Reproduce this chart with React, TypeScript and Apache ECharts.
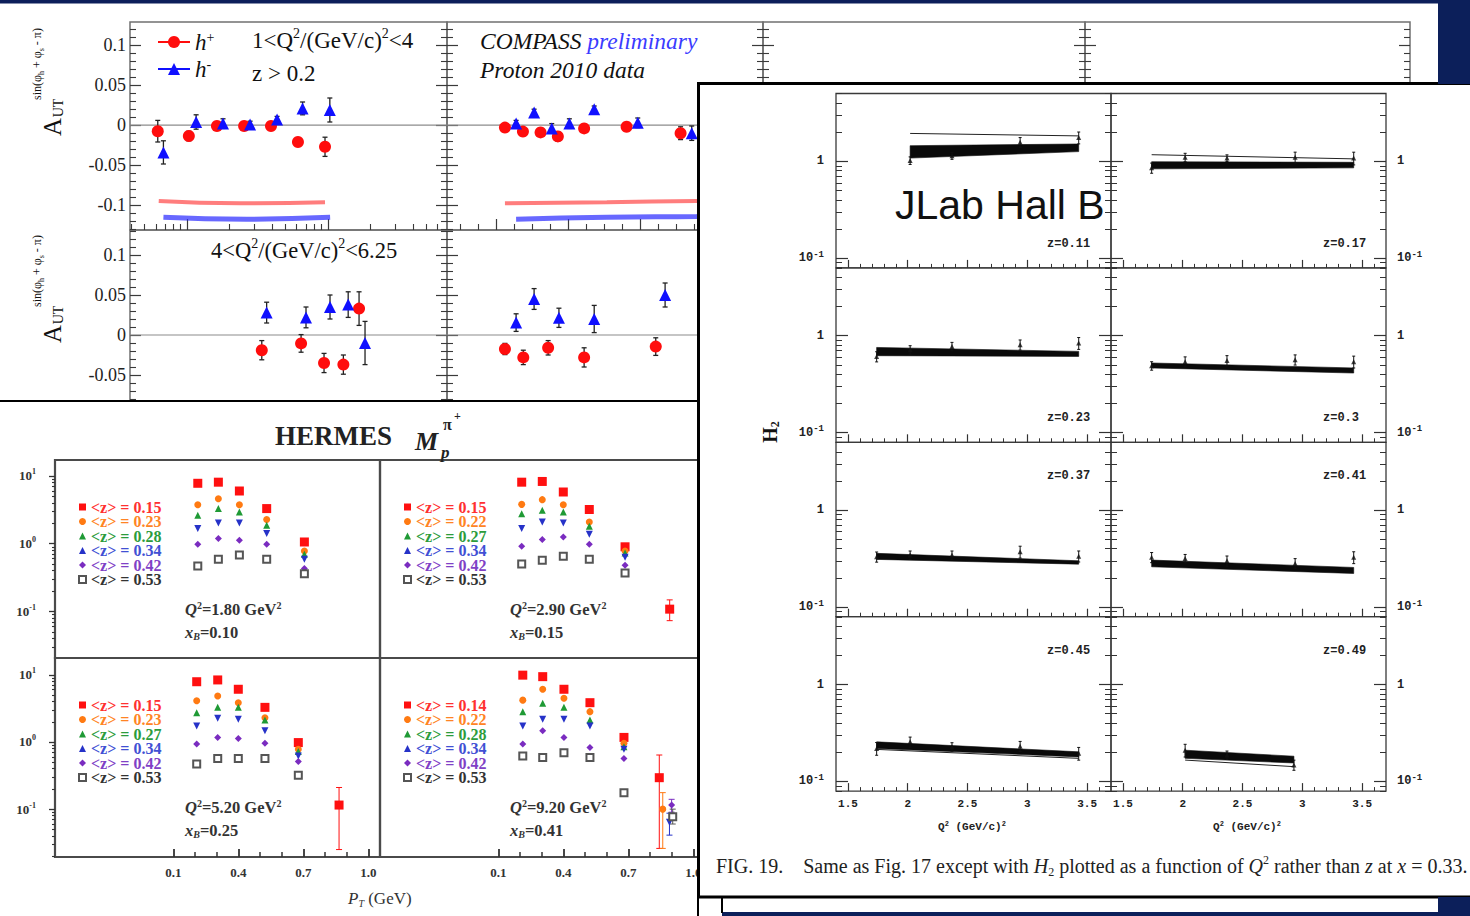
import React, { useEffect, useRef } from 'react';
import * as echarts from 'echarts';

const SERIF = '"Liberation Serif", "Times New Roman", serif';
const MONO = '"Liberation Mono", "DejaVu Sans Mono", monospace';
const SANS = '"Liberation Sans", Arial, sans-serif';
const NAVY = '#0c1f5a';

// ================= COMPASS  A_UT^{sin(phi_h+phi_s-pi)}  (proton 2010) =================
// top row 1<Q2<4, bottom row 4<Q2<6.25 ; column 1 vs x (log), column 2 vs z
const cmpYTicks = [-0.1, -0.05, 0, 0.05, 0.1];
const cmpTopX_hp = [0.0062, 0.0103, 0.0163, 0.0254, 0.0394, 0.0612, 0.0952];
const cmpTopX_hpA = [-0.0075, -0.0135, -0.001, -0.001, -0.001, -0.021, -0.027];
const cmpTopX_hpE = [0.0135, 0.006, 0.004, 0.004, 0.004, 0.005, 0.012];
const cmpTopX_hm = [0.0068, 0.0116, 0.018, 0.028, 0.0435, 0.066, 0.103];
const cmpTopX_hmA = [-0.034, 0.004, 0.002, 0.001, 0.007, 0.021, 0.019];
const cmpTopX_hmE = [0.0145, 0.009, 0.006, 0.004, 0.004, 0.008, 0.015];
const cmpTopZ_hp = [0.223, 0.273, 0.322, 0.37, 0.443, 0.561, 0.711];
const cmpTopZ_hpA = [-0.003, -0.008, -0.009, -0.014, -0.004, -0.002, -0.01];
const cmpTopZ_hpE = [0.004, 0.004, 0.004, 0.006, 0.004, 0.005, 0.008];
const cmpTopZ_hm = [0.254, 0.304, 0.353, 0.402, 0.471, 0.592, 0.742];
const cmpTopZ_hmA = [0.002, 0.016, -0.004, 0.002, 0.02, 0.003, -0.01];
const cmpTopZ_hmE = [0.004, 0.004, 0.006, 0.006, 0.004, 0.006, 0.009];
const cmpBotX_hp = [0.0339, 0.0644, 0.0937, 0.1285, 0.166];
const cmpBotX_hpA = [-0.019, -0.0105, -0.035, -0.037, 0.033];
const cmpBotX_hpE = [0.012, 0.011, 0.012, 0.012, 0.021];
const cmpBotX_hm = [0.0367, 0.0698, 0.1033, 0.139, 0.183];
const cmpBotX_hmA = [0.028, 0.022, 0.035, 0.038, -0.01];
const cmpBotX_hmE = [0.013, 0.013, 0.015, 0.016, 0.027];
const cmpBotZ_hp = [0.223, 0.274, 0.343, 0.443, 0.642];
const cmpBotZ_hpA = [-0.0175, -0.028, -0.016, -0.028, -0.0145];
const cmpBotZ_hpE = [0.007, 0.009, 0.009, 0.012, 0.011];
const cmpBotZ_hm = [0.254, 0.304, 0.373, 0.471, 0.668];
const cmpBotZ_hmA = [0.0155, 0.045, 0.0215, 0.02, 0.05];
const cmpBotZ_hmE = [0.011, 0.013, 0.012, 0.017, 0.015];
// model curves
const cmpCurveX_hp = [0.0063, 0.0238, 0.0952];
const cmpCurveX_hpA = [-0.0946, -0.0975, -0.0963];
const cmpCurveX_hm = [0.0068, 0.0265, 0.1035];
const cmpCurveX_hmA = [-0.1151, -0.1175, -0.1151];
const cmpCurveZ_hp = [0.223, 0.506, 0.756, 0.9];
const cmpCurveZ_hpA = [-0.0975, -0.0963, -0.0946, -0.094];
const cmpCurveZ_hm = [0.254, 0.506, 0.756, 0.9];
const cmpCurveZ_hmA = [-0.1175, -0.115, -0.114, -0.113];

// ================= HERMES  M_p^{pi+} vs P_T =================
const hermesColors = ['#ff1010', '#ff7a12', '#1f9a35', '#2632c8', '#7a2cc0', '#555555'];
const hermesTextColors = ['#ff3030', '#ff8424', '#2c9c3c', '#4150d4', '#8040c6', '#333333'];
const hermesSymbols = ['rect', 'circle', 'triangle', 'triangle', 'diamond', 'emptyRect'];
const hermesRotate = [0, 0, 0, 180, 0, 0];
const hermesSizes = [9, 7, 7, 7, 7, 7];
const hermesZ1 = ['0.15', '0.23', '0.28', '0.34', '0.42', '0.53'];
const hermesZ2 = ['0.15', '0.22', '0.27', '0.34', '0.42', '0.53'];
const hermesZ3 = ['0.15', '0.23', '0.27', '0.34', '0.42', '0.53'];
const hermesZ4 = ['0.14', '0.22', '0.28', '0.34', '0.42', '0.53'];
const hermesQ2 = ['1.80', '2.90', '5.20', '9.20'];
const hermesXB = ['0.10', '0.15', '0.25', '0.41'];
const hermesPtTicks = [0.1, 0.4, 0.7, 1.0];
const hermesPt1 = [0.213, 0.308, 0.405, 0.531, 0.705];
const hermesPt2 = [0.208, 0.303, 0.4, 0.52, 0.685];
const hermesPt3 = [0.208, 0.305, 0.4, 0.523, 0.677];
const hermesPt4 = [0.213, 0.305, 0.403, 0.523, 0.68];
// rows: <z> bins in legend order
const hermesM1 = [
  [7.8, 8.1, 6.0, 3.3, 1.06],
  [3.77, 4.6, 3.77, 2.27, 0.78],
  [2.62, 3.3, 2.94, 1.87, 0.7],
  [1.67, 2.02, 2.02, 1.41, 0.59],
  [0.98, 1.19, 1.12, 0.98, 0.43],
  [0.47, 0.59, 0.68, 0.59, 0.36],
];
const hermesM2 = [
  [8.1, 8.3, 5.8, 3.2, 0.9],
  [3.81, 4.47, 3.77, 2.09, 0.78],
  [2.78, 3.11, 2.94, 1.81, 0.73],
  [1.67, 2.09, 2.02, 1.38, 0.63],
  [0.92, 1.15, 1.26, 0.98, 0.48],
  [0.5, 0.57, 0.65, 0.59, 0.37],
];
const hermesM3 = [
  [7.9, 8.4, 6.1, 3.28, 0.98],
  [4.12, 4.84, 3.85, 2.3, 0.78],
  [2.73, 3.28, 3.28, 2.12, 0.72],
  [1.73, 2.25, 2.18, 1.47, 0.62],
  [0.93, 1.17, 1.13, 0.96, 0.51],
  [0.47, 0.57, 0.57, 0.57, 0.32],
];
const hermesM4 = [
  [9.9, 9.4, 6.1, 3.85, 1.17],
  [4.2, 6.1, 4.47, 2.83, 0.96],
  [2.83, 3.77, 3.28, 2.12, 0.85],
  [1.73, 2.18, 2.18, 1.73, 0.78],
  [0.93, 1.47, 1.17, 0.83, 0.57],
  [0.62, 0.59, 0.69, 0.59, 0.176],
];
// extra high-PT points: [bin, PT, M, errLow, errHigh]
const hermesExtra1: number[][] = [];
const hermesExtra2 = [[0, 0.891, 0.108, 0.073, 0.148]];
const hermesExtra3 = [[0, 0.865, 0.115, 0.025, 0.21]];
const hermesExtra4 = [
  [0, 0.843, 0.294, 0.026, 0.64],
  [1, 0.859, 0.1, 0.026, 0.176],
  [4, 0.9, 0.115, 0.09, 0.14],
  [3, 0.89, 0.064, 0.041, 0.087],
  [5, 0.905, 0.077, 0.06, 0.1],
];

// ================= JLab Hall B  H2 vs Q2 at x=0.33 =================
const jlabQTicks = [1.5, 2, 2.5, 3, 3.5];
const jlabZ = ['0.11', '0.17', '0.23', '0.3', '0.37', '0.41', '0.45', '0.49'];
const jlabQ5 = [1.74, 2.02, 2.37, 2.94, 3.43];
const jlabQ011 = [2.02, 2.37, 2.94, 3.43];
const jlabQ049 = [2.02, 2.37, 2.93];
const jlabH011 = [1.02, 1.14, 1.57, 1.76];
const jlabH017 = [0.856, 1.1, 1.08, 1.1, 1.08];
const jlabH023 = [0.61, 0.717, 0.776, 0.807, 0.84];
const jlabH030 = [0.49, 0.54, 0.556, 0.566, 0.54];
const jlabH037 = [0.33, 0.344, 0.344, 0.372, 0.335];
const jlabH041 = [0.326, 0.317, 0.3, 0.282, 0.326];
const jlabH045 = [0.219, 0.256, 0.228, 0.231, 0.195];
const jlabH049 = [0.21, 0.187, 0.148];
// relative errors
const jlabE011 = [0.09, 0.08, 0.12, 0.14];
const jlabE017 = [0.12, 0.1, 0.08, 0.13, 0.15];
const jlabE023 = [0.12, 0.1, 0.1, 0.12, 0.14];
const jlabE030 = [0.1, 0.12, 0.12, 0.12, 0.14];
const jlabE037 = [0.12, 0.1, 0.1, 0.14, 0.13];
const jlabE041 = [0.12, 0.1, 0.12, 0.12, 0.14];
const jlabE045 = [0.15, 0.12, 0.1, 0.12, 0.15];
const jlabE049 = [0.15, 0.1, 0.12];
// model bands (endpoints) and thin curves
const jlabBandQ011 = [2.02, 3.43];
const jlabBandQ5 = [1.74, 3.43];
const jlabBandQ049 = [2.02, 2.93];
const jlabLo011 = [1.08, 1.26];
const jlabHi011 = [1.45, 1.51];
const jlabLo017 = [0.836, 0.856];
const jlabHi017 = [0.99, 0.977];
const jlabLo023 = [0.622, 0.612];
const jlabHi023 = [0.757, 0.689];
const jlabLo030 = [0.465, 0.412];
const jlabHi030 = [0.523, 0.465];
const jlabLo037 = [0.31, 0.277];
const jlabHi037 = [0.358, 0.3];
const jlabLo041 = [0.26, 0.222];
const jlabHi041 = [0.305, 0.256];
const jlabLo045 = [0.219, 0.179];
const jlabHi045 = [0.256, 0.202];
const jlabLo049 = [0.173, 0.155];
const jlabHi049 = [0.21, 0.182];
const jlabLine011 = [1.94, 1.83];
const jlabLine017 = [1.17, 1.06];
const jlabLine045 = [0.214, 0.173];
const jlabLine049 = [0.166, 0.142];

function logMinor(lo: number, hi: number): number[] {
  const out: number[] = [];
  for (let d = Math.floor(lo); d <= Math.ceil(hi); d++) {
    for (let k = 2; k <= 9; k++) {
      const v = d + Math.log10(k);
      if (v > lo && v < hi) out.push(v);
    }
  }
  return out;
}

function buildOption(): any {
  const grid: any[] = [];
  const xAxis: any[] = [];
  const yAxis: any[] = [];
  const series: any[] = [];
  const elements: any[] = [];
  const legend: any[] = [];

  const addGrid = (left: number, top: number, width: number, height: number, borderColor: string, borderWidth: number, z: number) => {
    grid.push({ left, top, width, height, show: true, borderColor, borderWidth, backgroundColor: 'rgba(0,0,0,0)', containLabel: false, z });
    return grid.length - 1;
  };
  const addX = (o: any) => { xAxis.push(o); return xAxis.length - 1; };
  const addY = (o: any) => { yAxis.push(o); return yAxis.length - 1; };
  const dataAxis = (gridIndex: number, type: string, min: number, max: number, z: number) => {
    const o: any = { type, gridIndex, min, max, show: false, z, axisLine: { show: false, onZero: false }, splitLine: { show: false } };
    if (type === 'log') o.logBase = 10;
    return o;
  };
  const deco = (gridIndex: number, position: string, min: number, max: number, ticks: number[], len: number, inside: boolean, color: string, width: number, z: number, label?: any) => ({
    type: 'value', gridIndex, position, min, max, z, silent: true,
    axisLine: { show: false, onZero: false },
    splitLine: { show: false },
    axisTick: { show: true, inside, length: len, customValues: ticks, lineStyle: { color, width } },
    axisLabel: label ? Object.assign({ show: true, customValues: label.values }, label.style) : { show: false },
  });
  const errBars = (xi: number, yi: number, rows: number[][], color: string, cap: number, lw: number, z: number) => ({
    type: 'custom', xAxisIndex: xi, yAxisIndex: yi, z, silent: true,
    data: rows,
    encode: { x: 0, y: [1, 2] },
    renderItem: (params: any, api: any) => {
      const x = api.value(0), lo = api.value(1), hi = api.value(2);
      const a = api.coord([x, lo]);
      const b = api.coord([x, hi]);
      const st = { stroke: color, lineWidth: lw };
      const kids: any[] = [{ type: 'line', shape: { x1: a[0], y1: a[1], x2: b[0], y2: b[1] }, style: st }];
      if (cap > 0) {
        kids.push({ type: 'line', shape: { x1: a[0] - cap, y1: a[1], x2: a[0] + cap, y2: a[1] }, style: st });
        kids.push({ type: 'line', shape: { x1: b[0] - cap, y1: b[1], x2: b[0] + cap, y2: b[1] }, style: st });
      }
      return { type: 'group', children: kids };
    },
  });
  const text = (x: number, y: number, t: string, st: any, z: number, rotation = 0) => {
    const s = Object.assign({ text: t, fill: '#111', align: 'left', textAlign: 'left', verticalAlign: 'middle', textVerticalAlign: 'middle', fontFamily: SERIF, fontSize: 14 }, st);
    if (st.align) s.textAlign = st.align;
    if (st.verticalAlign) s.textVerticalAlign = st.verticalAlign;
    elements.push({ type: 'text', x, y, z, rotation, silent: true, style: s });
  };
  const rect = (x: number, y: number, w: number, h: number, fill: string, stroke: string | null, lw: number, z: number) => {
    elements.push({ type: 'rect', z, silent: true, shape: { x, y, width: w, height: h }, style: { fill, stroke: stroke || 'none', lineWidth: lw } });
  };

  // ---------------------------------------------------------------- COMPASS
  const TK = '#3a3a3a';
  const cmpCols = [[130, 447], [447, 763], [763, 1085], [1085, 1410]];
  const cmpRows = [[22, 230, -0.131, 0.129], [230, 420, -0.10625, 0.13125]];
  const cmpYMinor: number[] = [];
  for (let k = -13; k <= 13; k++) if (k % 5 !== 0) cmpYMinor.push(k / 100);
  const col1X = [0.00394, 0.698];
  const col2X = [0.062, 0.94];
  const col2Minor: number[] = [];
  for (let k = 2; k <= 18; k++) if (k % 4 !== 0) col2Minor.push(k * 0.05);
  const cmpLabel = { values: cmpYTicks, style: { fontFamily: SERIF, fontSize: 18, color: '#222', margin: 4, formatter: (v: number) => String(v) } };
  const P: any = {};
  cmpRows.forEach((row, r) => {
    cmpCols.forEach((col, c) => {
      if (r === 1 && c >= 2) return;
      const g = addGrid(col[0], row[0], col[1] - col[0], row[1] - row[0], '#707070', 1.5, 1);
      const xType = c === 0 ? 'log' : 'value';
      const xr = c === 0 ? col1X : c === 1 ? col2X : [0, 1];
      const xi = addX(dataAxis(g, xType, xr[0], xr[1], 2));
      const yi = addY(dataAxis(g, 'value', row[2], row[3], 2));
      addY(deco(g, 'left', row[2], row[3], cmpYTicks, 11, true, TK, 1.2, 2, c === 0 ? cmpLabel : undefined));
      addY(deco(g, 'left', row[2], row[3], cmpYMinor, 6, true, TK, 1.1, 2));
      addY(deco(g, 'right', row[2], row[3], cmpYTicks, 11, true, TK, 1.2, 2));
      addY(deco(g, 'right', row[2], row[3], cmpYMinor, 6, true, TK, 1.1, 2));
      if (r === 0 && c === 0) {
        const lo = Math.log10(xr[0]), hi = Math.log10(xr[1]);
        addX(deco(g, 'bottom', lo, hi, [-2, -1], 11, true, TK, 1.2, 2));
        addX(deco(g, 'bottom', lo, hi, logMinor(lo, hi), 6, true, TK, 1.1, 2));
      } else if (r === 0 && c === 1) {
        addX(deco(g, 'bottom', xr[0], xr[1], [0.2, 0.4, 0.6, 0.8], 11, true, TK, 1.2, 2));
        addX(deco(g, 'bottom', xr[0], xr[1], col2Minor, 6, true, TK, 1.1, 2));
      }
      P[r + '_' + c] = { xi, yi, xr };
    });
  });
  const zeroLine = (p: any) => series.push({ type: 'line', xAxisIndex: p.xi, yAxisIndex: p.yi, data: [[p.xr[0], 0], [p.xr[1], 0]], symbol: 'none', lineStyle: { color: '#8c8c8c', width: 1.2 }, z: 2, silent: true });
  const curve = (p: any, xs: number[], ys: number[], color: string, width: number) => series.push({ type: 'line', xAxisIndex: p.xi, yAxisIndex: p.yi, data: xs.map((x, i) => [x, ys[i]]), smooth: true, symbol: 'none', lineStyle: { color, width }, z: 3, silent: true });
  const cmpPts = (p: any, name: string, xs: number[], ys: number[], es: number[], color: string, symbol: string, size: number) => {
    series.push(errBars(p.xi, p.yi, xs.map((x, i) => [x, ys[i] - es[i], ys[i] + es[i]]), '#222', 2.5, 1.3, 3));
    series.push({ type: 'line', name, xAxisIndex: p.xi, yAxisIndex: p.yi, data: xs.map((x, i) => [x, ys[i]]), symbol, symbolSize: size, showSymbol: true, itemStyle: { color, opacity: 1 }, lineStyle: { color, width: 0, opacity: 0 }, z: 3, silent: true });
  };
  const RED = '#ff0d0d', BLUE = '#1010ff';
  ['0_0', '0_1', '1_0', '1_1'].forEach((k) => zeroLine(P[k]));
  curve(P['0_0'], cmpCurveX_hp, cmpCurveX_hpA, 'rgba(255,70,70,0.7)', 4);
  curve(P['0_0'], cmpCurveX_hm, cmpCurveX_hmA, 'rgba(40,40,255,0.7)', 5);
  curve(P['0_1'], cmpCurveZ_hp, cmpCurveZ_hpA, 'rgba(255,70,70,0.7)', 4);
  curve(P['0_1'], cmpCurveZ_hm, cmpCurveZ_hmA, 'rgba(40,40,255,0.7)', 5);
  cmpPts(P['0_0'], 'h+', cmpTopX_hp, cmpTopX_hpA, cmpTopX_hpE, RED, 'circle', 12);
  cmpPts(P['0_0'], 'h-', cmpTopX_hm, cmpTopX_hmA, cmpTopX_hmE, BLUE, 'triangle', 12);
  cmpPts(P['0_1'], 'h+', cmpTopZ_hp, cmpTopZ_hpA, cmpTopZ_hpE, RED, 'circle', 12);
  cmpPts(P['0_1'], 'h-', cmpTopZ_hm, cmpTopZ_hmA, cmpTopZ_hmE, BLUE, 'triangle', 12);
  cmpPts(P['1_0'], 'h+', cmpBotX_hp, cmpBotX_hpA, cmpBotX_hpE, RED, 'circle', 12);
  cmpPts(P['1_0'], 'h-', cmpBotX_hm, cmpBotX_hmA, cmpBotX_hmE, BLUE, 'triangle', 12);
  cmpPts(P['1_1'], 'h+', cmpBotZ_hp, cmpBotZ_hpA, cmpBotZ_hpE, RED, 'circle', 12);
  cmpPts(P['1_1'], 'h-', cmpBotZ_hm, cmpBotZ_hmA, cmpBotZ_hmE, BLUE, 'triangle', 12);

  legend.push({
    show: true, selectedMode: false, orient: 'vertical', left: 152, top: 25, itemWidth: 32, itemHeight: 15, itemGap: 3, z: 5,
    data: ['h+', 'h-'],
    formatter: (n: string) => (n === 'h+' ? '{i|h}{s|+}' : '{i|h}{s|-}'),
    textStyle: {
      color: '#111', fontFamily: SERIF, fontSize: 23, lineHeight: 24,
      rich: {
        i: { fontFamily: SERIF, fontSize: 23, fontStyle: 'italic', color: '#111', lineHeight: 24, verticalAlign: 'middle' },
        s: { fontFamily: SERIF, fontSize: 14, color: '#111', lineHeight: 24, verticalAlign: 'top' },
      },
    },
    lineStyle: { width: 2, opacity: 1 },
  });

  const supRich = (fs: number, italic: boolean) => ({
    n: { fontFamily: SERIF, fontSize: fs, fill: '#111', lineHeight: fs + 4, verticalAlign: 'middle', fontStyle: italic ? 'italic' : 'normal' },
    s: { fontFamily: SERIF, fontSize: Math.round(fs * 0.62), fill: '#111', lineHeight: fs + 4, verticalAlign: 'top' },
    b: { fontFamily: SERIF, fontSize: fs, fill: '#3b3bff', lineHeight: fs + 4, verticalAlign: 'middle', fontStyle: 'italic' },
  });
  text(252, 40, '{n|1<Q}{s|2}{n|/(GeV/c)}{s|2}{n|<4}', { rich: supRich(23, false) }, 4);
  text(252, 73, 'z > 0.2', { fontSize: 23 }, 4);
  text(480, 41, '{n|COMPASS }{b|preliminary}', { rich: supRich(23.5, true) }, 4);
  text(480, 70, 'Proton 2010 data', { fontSize: 23.5, fontStyle: 'italic' }, 4);
  text(211, 250, '{n|4<Q}{s|2}{n|/(GeV/c)}{s|2}{n|<6.25}', { rich: supRich(22.5, false) }, 4);
  const yTitle = (cy: number) => {
    text(52, cy + 41, 'A', { fontSize: 25, align: 'center' }, 4, Math.PI / 2);
    text(58, cy + 22, 'UT', { fontSize: 14, align: 'center' }, 4, Math.PI / 2);
    text(37, cy - 22, '{t|sin(φ}{u|h}{t| + φ}{u|s}{t| - π)}', {
      align: 'center',
      rich: {
        t: { fontFamily: SERIF, fontSize: 12, fill: '#111', lineHeight: 16, verticalAlign: 'middle' },
        u: { fontFamily: SERIF, fontSize: 8, fill: '#111', lineHeight: 16, verticalAlign: 'bottom' },
      },
    }, 4, Math.PI / 2);
  };
  yTitle(86);
  yTitle(293);

  // ---------------------------------------------------------------- HERMES
  rect(-10, 401, 708, 530, '#ffffff', '#000000', 2, 10);
  const hCols = [[55, 380], [380, 705]];
  const hRows = [[460, 658, -1.688, 1.236], [658, 857, -1.713, 1.251]];
  const hPt = [hermesPt1, hermesPt2, hermesPt3, hermesPt4];
  const hM = [hermesM1, hermesM2, hermesM3, hermesM4];
  const hZ = [hermesZ1, hermesZ2, hermesZ3, hermesZ4];
  const hEx = [hermesExtra1, hermesExtra2, hermesExtra3, hermesExtra4];
  const hLegendPos = [[78, 499], [403, 499], [78, 697], [403, 697]];
  const hTextPos = [[185, 609, 632], [510, 609, 632], [185, 807, 830], [510, 807, 830]];
  const hYLabel = {
    values: [-1, 0, 1],
    style: {
      fontFamily: SERIF, fontWeight: 'bold', fontSize: 13, color: '#333', margin: 19,
      formatter: (v: number) => '{b|10}{s|' + Math.round(v) + '}',
      rich: {
        b: { fontFamily: SERIF, fontWeight: 'bold', fontSize: 13, color: '#333', lineHeight: 16, verticalAlign: 'middle' },
        s: { fontFamily: SERIF, fontWeight: 'bold', fontSize: 8, color: '#333', lineHeight: 16, verticalAlign: 'top' },
      },
    },
  };
  const hXLabel = { values: hermesPtTicks, style: { fontFamily: SERIF, fontWeight: 'bold', fontSize: 13, color: '#333', margin: 9, formatter: (v: number) => v.toFixed(1) } };
  for (let p = 0; p < 4; p++) {
    const r = Math.floor(p / 2), c = p % 2;
    const row = hRows[r], col = hCols[c];
    const g = addGrid(col[0], row[0], col[1] - col[0], row[1] - row[0], '#4a4a4a', 2.2, 11);
    const xi = addX(dataAxis(g, 'value', -0.446, 1.054, 12));
    const yi = addY(dataAxis(g, 'log', Math.pow(10, row[2]), Math.pow(10, row[3]), 12));
    if (c === 0) {
      addY(deco(g, 'left', row[2], row[3], [-1, 0, 1], 6, false, '#333', 1.3, 12, hYLabel));
      addY(deco(g, 'left', row[2], row[3], logMinor(row[2], row[3]), 3, false, '#333', 1.1, 12));
    }
    if (r === 1) {
      addX(deco(g, 'bottom', -0.446, 1.054, hermesPtTicks, 8, true, '#333', 1.8, 12, hXLabel));
      addX(deco(g, 'bottom', -0.446, 1.054, [0.2, 0.3, 0.5, 0.6, 0.8, 0.9], 5, true, '#333', 1.5, 12));
    }
    const names = hZ[p].map((z) => '<z> = ' + z);
    hEx[p].forEach((e) => series.push(errBars(xi, yi, [[e[1], e[3], e[4]]], hermesColors[e[0]], 3, 1, 13)));
    for (let k = 0; k < 6; k++) {
      const pts: number[][] = hPt[p].map((pt, i) => [pt, hM[p][k][i]]);
      hEx[p].filter((e) => e[0] === k).forEach((e) => pts.push([e[1], e[2]]));
      series.push({
        type: 'scatter', name: names[k], xAxisIndex: xi, yAxisIndex: yi, data: pts,
        symbol: hermesSymbols[k], symbolRotate: hermesRotate[k], symbolSize: hermesSizes[k],
        itemStyle: { color: hermesColors[k], borderColor: hermesColors[k], borderWidth: k === 5 ? 1.2 : 0, opacity: 1 },
        z: 13, silent: true,
      });
    }
    legend.push({
      show: true, selectedMode: false, orient: 'vertical', left: hLegendPos[p][0], top: hLegendPos[p][1],
      itemWidth: 7, itemHeight: 7, itemGap: -1.5, z: 14, padding: 0,
      data: names.map((n, k) => ({ name: n, textStyle: { color: hermesTextColors[k] } })),
      textStyle: { fontFamily: SERIF, fontWeight: 'bold', fontSize: 16 },
    });
    const tp = hTextPos[p];
    const hr = {
      i: { fontFamily: SERIF, fontWeight: 'bold', fontStyle: 'italic', fontSize: 16.5, fill: '#333', lineHeight: 18, verticalAlign: 'middle' },
      b: { fontFamily: SERIF, fontWeight: 'bold', fontSize: 16.5, fill: '#333', lineHeight: 18, verticalAlign: 'middle' },
      s: { fontFamily: SERIF, fontWeight: 'bold', fontSize: 10, fill: '#333', lineHeight: 18, verticalAlign: 'top' },
      u: { fontFamily: SERIF, fontWeight: 'bold', fontStyle: 'italic', fontSize: 10, fill: '#333', lineHeight: 18, verticalAlign: 'bottom' },
    };
    text(tp[0], tp[1], '{i|Q}{s|2}{b|=' + hermesQ2[p] + ' GeV}{s|2}', { rich: hr }, 14);
    text(tp[0], tp[2], '{i|x}{u|B}{b|=' + hermesXB[p] + '}', { rich: hr }, 14);
  }
  text(275, 436, 'HERMES', { fontSize: 27, fontWeight: 'bold', fill: '#222' }, 14);
  text(415, 441, 'M', { fontSize: 26, fontWeight: 'bold', fontStyle: 'italic', fill: '#222' }, 14);
  text(441, 452, 'p', { fontSize: 17, fontWeight: 'bold', fontStyle: 'italic', fill: '#222' }, 14);
  text(443, 424, 'π', { fontSize: 16, fontWeight: 'bold', fill: '#222' }, 14);
  text(454, 416, '+', { fontSize: 12, fontWeight: 'bold', fill: '#222' }, 14);
  text(348, 898, '{i|P}{u|T}{b| (GeV)}', {
    rich: {
      i: { fontFamily: SERIF, fontStyle: 'italic', fontSize: 17, fill: '#333', lineHeight: 20, verticalAlign: 'middle' },
      u: { fontFamily: SERIF, fontStyle: 'italic', fontSize: 10, fill: '#333', lineHeight: 20, verticalAlign: 'bottom' },
      b: { fontFamily: SERIF, fontSize: 17, fill: '#333', lineHeight: 20, verticalAlign: 'middle' },
    },
  }, 14);

  // ---------------------------------------------------------------- JLab
  rect(698.5, 83.5, 800, 813.5, '#ffffff', '#000000', 3, 20);
  const jCols = [836, 1111];
  const jTop = 93.5, jH = 174.4, jW = 275;
  const jlab = [
    { q: jlabQ011, h: jlabH011, e: jlabE011, bq: jlabBandQ011, lo: jlabLo011, hi: jlabHi011, line: jlabLine011 },
    { q: jlabQ5, h: jlabH017, e: jlabE017, bq: jlabBandQ5, lo: jlabLo017, hi: jlabHi017, line: jlabLine017 },
    { q: jlabQ5, h: jlabH023, e: jlabE023, bq: jlabBandQ5, lo: jlabLo023, hi: jlabHi023, line: null },
    { q: jlabQ5, h: jlabH030, e: jlabE030, bq: jlabBandQ5, lo: jlabLo030, hi: jlabHi030, line: null },
    { q: jlabQ5, h: jlabH037, e: jlabE037, bq: jlabBandQ5, lo: jlabLo037, hi: jlabHi037, line: null },
    { q: jlabQ5, h: jlabH041, e: jlabE041, bq: jlabBandQ5, lo: jlabLo041, hi: jlabHi041, line: null },
    { q: jlabQ5, h: jlabH045, e: jlabE045, bq: jlabBandQ5, lo: jlabLo045, hi: jlabHi045, line: jlabLine045 },
    { q: jlabQ049, h: jlabH049, e: jlabE049, bq: jlabBandQ049, lo: jlabLo049, hi: jlabHi049, line: jlabLine049 },
  ];
  const jMinorX: number[] = [];
  for (let k = 15; k <= 36; k++) if (k % 5 !== 0) jMinorX.push(k / 10);
  const jYMinor = logMinor(-1.1, 0.7);
  const jYLabelStyle = (margin: number) => ({
    values: [-1, 0],
    style: {
      margin, color: '#222', fontFamily: MONO, fontWeight: 'bold', fontSize: 12,
      formatter: (v: number) => (Math.round(v) === 0 ? '{b|1}' : '{b|10}{s|-1}'),
      rich: {
        b: { fontFamily: MONO, fontWeight: 'bold', fontSize: 12, color: '#222', lineHeight: 16, verticalAlign: 'middle' },
        s: { fontFamily: MONO, fontWeight: 'bold', fontSize: 9, color: '#222', lineHeight: 16, verticalAlign: 'top' },
      },
    },
  });
  const jXLabel = { values: jlabQTicks, style: { margin: 7, color: '#222', fontFamily: MONO, fontWeight: 'bold', fontSize: 11, formatter: (v: number) => String(v) } };
  jlab.forEach((D, i) => {
    const r = Math.floor(i / 2), c = i % 2;
    const left = jCols[c], top = jTop + r * jH;
    const g = addGrid(left, top, jW, jH, '#3a3a3a', 1.3, 21);
    const xi = addX(dataAxis(g, 'value', 1.4, 3.7, 22));
    const yi = addY(dataAxis(g, 'log', Math.pow(10, -1.1), Math.pow(10, 0.7), 22));
    addX(deco(g, 'bottom', 1.4, 3.7, jlabQTicks, 8, true, '#333', 1.2, 22, r === 3 ? jXLabel : undefined));
    addX(deco(g, 'bottom', 1.4, 3.7, jMinorX, 4, true, '#333', 1, 22));
    addY(deco(g, 'left', -1.1, 0.7, [-1, 0], 12, true, '#333', 1.2, 22, c === 0 ? jYLabelStyle(12) : undefined));
    addY(deco(g, 'left', -1.1, 0.7, jYMinor, 6, true, '#333', 1, 22));
    addY(deco(g, 'right', -1.1, 0.7, [-1, 0], 12, true, '#333', 1.2, 22, c === 1 ? jYLabelStyle(11) : undefined));
    addY(deco(g, 'right', -1.1, 0.7, jYMinor, 6, true, '#333', 1, 22));
    const bq = D.bq, lo = D.lo, hi = D.hi;
    series.push({
      type: 'custom', xAxisIndex: xi, yAxisIndex: yi, z: 23, silent: true,
      data: bq.map((q, k) => [q, lo[k], hi[k]]),
      encode: { x: 0, y: [1, 2] },
      renderItem: (params: any, api: any) => {
        if (params.dataIndex !== 0) return null;
        const topPts = bq.map((q, k) => api.coord([q, hi[k]]));
        const botPts = bq.map((q, k) => api.coord([q, lo[k]])).reverse();
        return { type: 'polygon', shape: { points: topPts.concat(botPts) }, style: { fill: '#0a0a0a', stroke: '#0a0a0a', lineWidth: 0.6 } };
      },
    });
    if (D.line) {
      const ln = D.line;
      series.push({ type: 'line', xAxisIndex: xi, yAxisIndex: yi, data: bq.map((q, k) => [q, ln[k]]), symbol: 'none', lineStyle: { color: '#222', width: 1 }, z: 23, silent: true });
    }
    series.push(errBars(xi, yi, D.q.map((q, k) => [q, D.h[k] * (1 - D.e[k]), D.h[k] * (1 + D.e[k])]), '#111', 1.5, 1, 23));
    series.push({ type: 'scatter', xAxisIndex: xi, yAxisIndex: yi, data: D.q.map((q, k) => [q, D.h[k]]), symbol: 'triangle', symbolSize: 5, itemStyle: { color: '#111' }, z: 23, silent: true });
    const zy = r < 2 ? top + 150 : top + 34;
    text(c === 0 ? 1047 : 1323, zy, 'z=' + jlabZ[i], { fontFamily: MONO, fontWeight: 'bold', fontSize: 12, fill: '#222' }, 24);
  });
  const qTitle = (cx: number) => text(cx, 827, '{b|Q}{s|2}{b| (GeV/c)}{s|2}', {
    align: 'center',
    rich: {
      b: { fontFamily: MONO, fontWeight: 'bold', fontSize: 11, fill: '#222', lineHeight: 14, verticalAlign: 'middle' },
      s: { fontFamily: MONO, fontWeight: 'bold', fontSize: 7, fill: '#222', lineHeight: 14, verticalAlign: 'top' },
    },
  }, 24);
  qTitle(972);
  qTitle(1247);
  text(770, 432, '{b|H}{s|2}', {
    align: 'center',
    rich: {
      b: { fontFamily: SERIF, fontWeight: 'bold', fontSize: 20, fill: '#111', lineHeight: 22, verticalAlign: 'middle' },
      s: { fontFamily: SERIF, fontWeight: 'bold', fontSize: 12, fill: '#111', lineHeight: 22, verticalAlign: 'bottom' },
    },
  }, 24, Math.PI / 2);
  text(895, 205, 'JLab Hall B', { fontFamily: SANS, fontSize: 41, fill: '#111' }, 24);
  text(716, 866, '{n|FIG. 19.    Same as Fig. 17 except with }{i|H}{u|2}{n| plotted as a function of }{i|Q}{s|2}{n| rather than }{i|z}{n| at }{i|x}{n| = 0.33.}', {
    rich: {
      n: { fontFamily: SERIF, fontSize: 20, fill: '#222', lineHeight: 24, verticalAlign: 'middle' },
      i: { fontFamily: SERIF, fontSize: 20, fontStyle: 'italic', fill: '#222', lineHeight: 24, verticalAlign: 'middle' },
      u: { fontFamily: SERIF, fontSize: 12, fill: '#222', lineHeight: 24, verticalAlign: 'bottom' },
      s: { fontFamily: SERIF, fontSize: 12, fill: '#222', lineHeight: 24, verticalAlign: 'top' },
    },
  }, 24);

  // ---------------------------------------------------------------- slide frame
  rect(0, 0, 1470, 3.5, NAVY, null, 0, 30);
  rect(1438, 0, 40, 84, NAVY, null, 0, 30);
  rect(1438, 897, 40, 25, NAVY, null, 0, 30);
  rect(722, 912, 760, 10, NAVY, null, 0, 30);
  rect(721, 897, 2, 16, '#000000', null, 0, 30);

  return {
    animation: false,
    backgroundColor: '#ffffff',
    grid, xAxis, yAxis, series, legend,
    graphic: { elements },
  };
}

export default function App() {
  const ref = useRef<HTMLDivElement>(null);
  useEffect(() => {
    const el = ref.current;
    if (!el) return;
    document.body.style.margin = '0';
    const chart = echarts.init(el, null, { renderer: 'svg' });
    chart.setOption(buildOption());
    return () => {
      chart.dispose();
    };
  }, []);
  return <div ref={ref} style={{ position: 'absolute', left: 0, top: 0, width: 1470, height: 916 }} />;
}
